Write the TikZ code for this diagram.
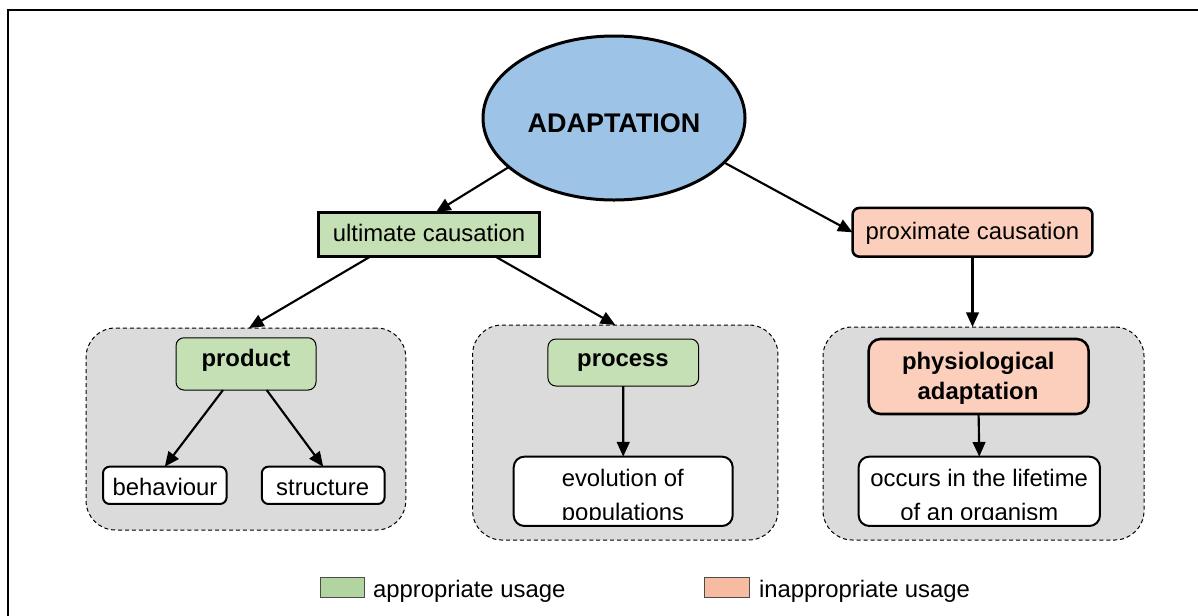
\documentclass[tikz,border=0pt]{standalone}
\usepackage{fontspec}
\setmainfont{Liberation Sans}
\usetikzlibrary{arrows.meta,shapes.geometric}

\definecolor{skyfill}{HTML}{9DC3E6}
\definecolor{okfill}{HTML}{C5E0B4}
\definecolor{badfill}{HTML}{FCCFBD}
\definecolor{groupfill}{HTML}{DBDBDB}
\definecolor{okkey}{HTML}{B2D5A0}
\definecolor{badkey}{HTML}{F6BBA0}

\tikzset{
  every node/.style={inner sep=0pt, outer sep=0pt},
  txt/.style={font=\fontsize{17.9pt}{23.25pt}\selectfont, anchor=base},
  boldtxt/.style={font=\fontsize{17.9pt}{23.25pt}\selectfont\bfseries, anchor=base},
  titletxt/.style={font=\fontsize{20.2pt}{24pt}\selectfont\bfseries, anchor=base},
  frame/.style={line width=1.5pt},
  rootshape/.style={ellipse, draw, line width=2.25pt, fill=skyfill},
  okbox/.style={rectangle, draw, fill=okfill},
  badbox/.style={rectangle, draw, fill=badfill, rounded corners=5pt},
  groupbox/.style={rectangle, draw, fill=groupfill, line width=0.75pt,
    dash pattern=on 3pt off 2.2pt, rounded corners=22pt},
  leafbox/.style={rectangle, draw, fill=white, line width=1.5pt},
  keybox/.style={rectangle, draw=black!70, line width=0.75pt},
  link/.style={line width=1.6pt, -{Triangle[length=11pt,width=9.5pt]}},
}

\begin{document}
\begin{tikzpicture}[x=0.75pt, y=-0.75pt]
\useasboundingbox (0,0) rectangle (1198,615);
\clip (0,0) rectangle (1198,615);

% outer frame (only its left and top sides fall inside the page)
\draw[frame] (7.7,640) |- (1240,9.5);

% root
\node[rootshape, minimum width=196.5pt, minimum height=123pt] (adapt) at (614,118) {};
\node[titletxt] (adapt-t) at (614,132) {ADAPTATION};

% causation level
\node[okbox, line width=2.25pt, minimum width=165.9pt, minimum height=33.5pt] (ult) at (429,234.4) {};
\node[txt] (ult-t) at (429,241) {ultimate causation};
\node[badbox, line width=1.9pt, minimum width=179.9pt, minimum height=36.5pt] (prox) at (972.5,232.3) {};
\node[txt] (prox-t) at (972.3,239) {proximate causation};

% grouping panels
\node[groupbox, minimum width=239.8pt, minimum height=151.5pt] (grp1) at (245.9,429) {};
\node[groupbox, minimum width=229pt, minimum height=161.25pt] (grp2) at (625.3,432.5) {};
\node[groupbox, minimum width=240.75pt, minimum height=159.75pt] (grp3) at (983.5,433.5) {};

% panel heads
\node[okbox, line width=0.75pt, rounded corners=6pt, minimum width=105pt, minimum height=39.2pt] (product) at (246,363.9) {};
\node[boldtxt] (product-t) at (246,366) {product};
\node[okbox, line width=0.75pt, rounded corners=6pt, minimum width=113pt, minimum height=35.25pt] (process) at (623.3,362.5) {};
\node[boldtxt] (process-t) at (623,366.5) {process};
\node[badbox, line width=1.9pt, rounded corners=9pt, minimum width=165pt, minimum height=56.25pt] (phys) at (978.6,376.5) {};
\node[boldtxt] (phys-t1) at (978.3,369) {physiological};
\node[boldtxt] (phys-t2) at (978,399.3) {adaptation};

% leaves
\node[leafbox, rounded corners=5pt, minimum width=92.7pt, minimum height=28pt] (behav) at (164.8,485.3) {};
\node[txt] (behav-t) at (165,495) {behaviour};
\node[leafbox, rounded corners=5pt, minimum width=92.1pt, minimum height=28pt] (struct) at (323.2,485.3) {};
\node[txt] (struct-t) at (322.6,495) {structure};
% two-line leaves: the second line runs past the text frame and is cut off
\node[leafbox, rounded corners=8pt, minimum width=164.25pt, minimum height=52pt] (evo) at (623.2,491.3) {};
\begin{scope}
  \clip ([yshift=4.8pt]evo.south west) rectangle (evo.north east);
  \node[txt] (evo-t1) at (622.8,486.7) {evolution of};
  \node[txt] (evo-t2) at (623,520.5) {populations};
\end{scope}
\node[leafbox, rounded corners=8pt, minimum width=181pt, minimum height=52pt] (occurs) at (979.3,491.3) {};
\begin{scope}
  \clip ([yshift=4.8pt]occurs.south west) rectangle (occurs.north east);
  \node[txt] (occ-t1) at (979.2,486.7) {occurs in the lifetime};
  \node[txt] (occ-t2) at (979.4,520.5) {of an organism};
\end{scope}

% connectors
\draw[link] (adapt.205) -- ([xshift=5.25pt]ult.north);
\draw[link] (adapt.-22) -- (prox.west);
\draw[link] ([xshift=-44.25pt]ult.south) -- ([xshift=2.3pt]grp1.north);
\draw[link] ([xshift=50pt]ult.south) -- ([xshift=-7.5pt]grp2.north);
\draw[link] (prox.south) -- (prox.south |- grp3.north);
\draw[link] ([xshift=-17.25pt]product.south) -- (behav.north);
\draw[link] ([xshift=15.5pt]product.south) -- (struct.north);
\draw[link] (process.south) -- (evo.north);
\draw[link] (phys.south) -- (occurs.north);

% key
\node[keybox, fill=okkey, minimum width=33pt, minimum height=15pt] (key-ok) at (342,587) {};
\node[txt, anchor=base west] (key-ok-t) at (373,597) {appropriate usage};
\node[keybox, fill=badkey, minimum width=33.75pt, minimum height=15pt] (key-bad) at (726.5,587) {};
\node[txt, anchor=base west] (key-bad-t) at (759,597) {inappropriate usage};
\end{tikzpicture}
\end{document}
